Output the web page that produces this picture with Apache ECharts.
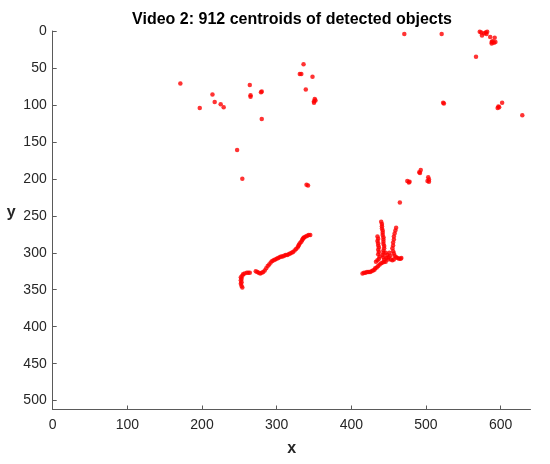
<!DOCTYPE html>
<html>
<head>
<meta charset="utf-8">
<script src="https://cdn.jsdelivr.net/npm/echarts@6/dist/echarts.min.js"></script>
<style>html,body{margin:0;padding:0;background:#fff;}#c{width:550px;height:464px;}</style>
</head>
<body>
<div id="c"></div>
<script>
var titleText = 'Video 2: 912 centroids of detected objects';
var xTicks = [0, 100, 200, 300, 400, 500, 600];
var yTicks = [0, 50, 100, 150, 200, 250, 300, 350, 400, 450, 500];

var topLeftPts = [[171,71],[197,104],[214,86],[217,96],[225,99],[229,103],[247,161],[254,200],[264,73],[265,87],[265,89],[279,83],[280,82],[280,119],[336,45],[331,58],[333,58],[348,62],[339,79],[351,92],[350,95],[352,94],[350,97],[340,208],[342,209]];
var topRightPts = [[471,4],[521,4],[572,1],[574,2],[575,6],[578,3],[580,2],[582,1],[581,4],[586,8],[592,9],[589,14],[588,17],[591,16],[593,15],[588,15],[567,35],[523,97],[524,98],[602,97],[597,102],[598,103],[596,104],[629,114]];
var midPts = [[465,232],[475,203],[477,205],[478,204],[491,191],[493,188],[492,192],[503,198],[504,201],[504,204],[502,203]];
var leftTrackPts = [[254,347],[253,345],[252,342],[253,340],[252,337],[253,335],[252,333],[254,331],[255,329],[257,328],[260,327],[262,327],[264,327],
  [272,325],[274,326],[276,327],[278,328],[280,327],[282,326],[284,324],[286,321],[288,318],[290,316],[292,313],[294,311],[296,310],[298,309],[300,308],[302,307],[304,306],[306,305],[308,305],[310,304],[312,303],[314,303],[316,302],[318,301],[320,300],[322,299],[324,297],[326,295],[328,293],[329,291],[330,289],[331,287],[333,285],[334,283],[335,281],[336,280],[337,279],[339,278],[341,277],[343,276],[345,276]];
var rightTrackPts = [[415,328],[417,327],[419,327],[421,326],[423,326],[425,326],[427,325],[429,324],[431,323],[432,321],[434,320],[436,318],[438,316],[440,314],[442,313],[444,312],[446,312],
  [435,278],[436,281],[435,284],[436,287],[436,290],[437,293],[436,296],[437,299],[436,302],[438,305],[437,308],[435,310],[433,312],
  [440,258],[441,261],[441,264],[441,267],[442,270],[442,273],[442,276],[443,279],[443,282],[443,285],[443,288],[444,291],[444,294],[443,297],[443,300],[442,303],[443,306],[444,309],
  [446,300],[448,303],[447,307],[449,309],[450,306],[452,304],[451,300],
  [460,266],[459,270],[458,274],[457,278],[457,282],[456,286],[456,290],[455,294],[456,298],[457,301],[458,304],[460,306],[462,307],[464,308],[466,308],[467,307],[453,309],[455,310],[457,309]];

var allPts = [].concat(topLeftPts, topRightPts, midPts, leftTrackPts, rightTrackPts);

var chart = echarts.init(document.getElementById('c'), null, {renderer: 'canvas'});
var axisCol = '#262626';
var lineCol = '#5a5a5a';
var font = 'Liberation Sans, Arial, Helvetica, sans-serif';
chart.setOption({
  animation: false,
  backgroundColor: '#ffffff',
  title: {
    text: titleText,
    left: 287, top: 7, textAlign: 'center',
    textStyle: {fontFamily: font, fontSize: 16, fontWeight: 'bold', color: '#000'}
  },
  grid: {left: 52.7, right: 19.5, top: 31, bottom: 54.5, containLabel: false},
  xAxis: {
    type: 'value', position: 'bottom', min: 0, max: 640, interval: 100,
    name: 'x', nameLocation: 'middle', nameGap: 31,
    nameTextStyle: {fontFamily: font, fontSize: 16, fontWeight: 'bold', color: axisCol},
    axisLine: {show: true, onZero: false, lineStyle: {color: lineCol, width: 1}},
    axisTick: {show: true, inside: true, length: 4, lineStyle: {color: lineCol}, customValues: xTicks},
    axisLabel: {fontFamily: font, fontSize: 14, color: axisCol, margin: 9, customValues: xTicks},
    splitLine: {show: false}
  },
  yAxis: {
    type: 'value', position: 'left', min: 0, max: 512, inverse: true, interval: 50,
    name: 'y', nameLocation: 'middle', nameGap: 37, nameRotate: 0,
    nameTextStyle: {fontFamily: font, fontSize: 16, fontWeight: 'bold', color: axisCol, verticalAlign: 'bottom'},
    axisLine: {show: true, onZero: false, lineStyle: {color: lineCol, width: 1}},
    axisTick: {show: true, inside: true, length: 4, lineStyle: {color: lineCol}, customValues: yTicks},
    axisLabel: {fontFamily: font, fontSize: 14, color: axisCol, margin: 6, customValues: yTicks},
    splitLine: {show: false}
  },
  series: [{
    type: 'scatter',
    data: allPts,
    symbol: 'circle',
    symbolSize: 4.5,
    itemStyle: {color: '#ff0000'},
    clip: false
  }]
});
</script>
</body>
</html>
